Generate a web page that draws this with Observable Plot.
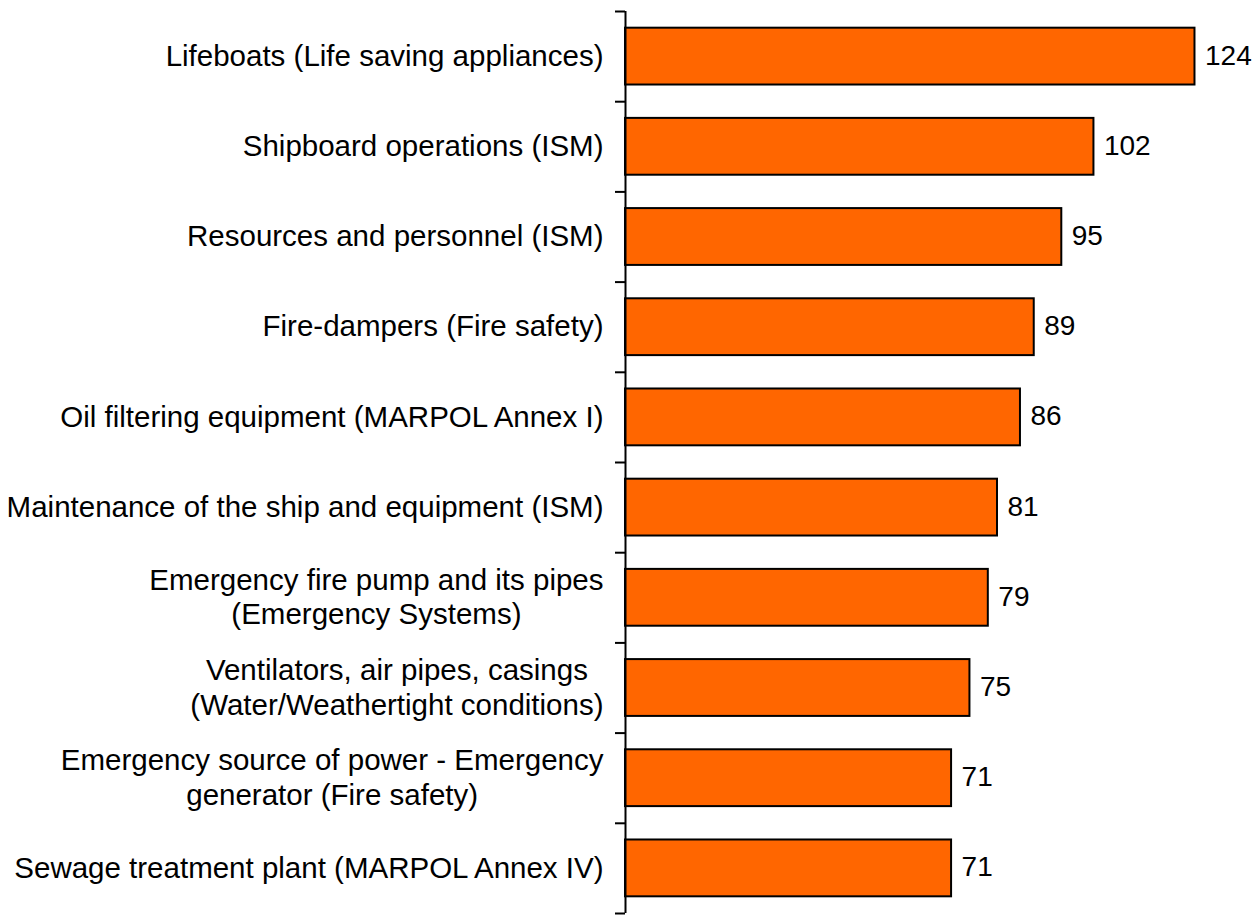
<!DOCTYPE html>
<html>
<head>
<meta charset="utf-8">
<script src="https://cdn.jsdelivr.net/npm/d3@7"></script>
<script src="https://cdn.jsdelivr.net/npm/@observablehq/plot@0.6"></script>
<style>
  html, body { margin: 0; padding: 0; background: #fff; }
  #chart svg { display: block; }
</style>
</head>
<body>
<div id="chart"></div>
<script>
const categories = [
  "Lifeboats (Life saving appliances)",
  "Shipboard operations (ISM)",
  "Resources and personnel (ISM)",
  "Fire-dampers (Fire safety)",
  "Oil filtering equipment (MARPOL Annex I)",
  "Maintenance of the ship and equipment (ISM)",
  "Emergency fire pump and its pipes\n(Emergency Systems)",
  "Ventilators, air pipes, casings\n(Water/Weathertight conditions)",
  "Emergency source of power - Emergency\ngenerator (Fire safety)",
  "Sewage treatment plant (MARPOL Annex IV)"
];
const values = [124, 102, 95, 89, 86, 81, 79, 75, 71, 71];

const data = categories.map((c, i) => ({category: c, value: values[i], rank: i}));
const boundaries = d3.range(categories.length + 1).map(i => i - 0.5);
const halfBar = 0.315;

const font = "'Liberation Sans', Arial, sans-serif";

const chart = Plot.plot({
  width: 1253,
  height: 915,
  marginLeft: 625,
  marginRight: 8,
  marginTop: 11,
  marginBottom: 2,
  style: {fontFamily: font, background: "#fff", color: "#000"},
  x: {domain: [0, 135], axis: null},
  y: {domain: [-0.5, categories.length - 0.5], reverse: true, axis: null},
  marks: [
    Plot.rectX(data, {
      y1: d => d.rank - halfBar,
      y2: d => d.rank + halfBar,
      x1: 0,
      x2: "value",
      fill: "#FF6600",
      stroke: "#000",
      strokeWidth: 2
    }),
    Plot.ruleX([0], {y1: -0.5, y2: categories.length - 0.5, stroke: "#000", strokeWidth: 2}),
    Plot.axisY({
      ticks: boundaries,
      tickSize: 10,
      tickFormat: () => "",
      label: null,
      strokeWidth: 2,
      stroke: "#000"
    }),
    Plot.text(data, {
      x: 0,
      y: "rank",
      text: "category",
      textAnchor: "end",
      dx: -22,
      dy: -2,
      fontSize: 29.5,
      lineHeight: 1.186,
      fill: "#000",
      className: "cat-label"
    }),
    Plot.text(data, {
      x: "value",
      y: "rank",
      text: d => String(d.value),
      textAnchor: "start",
      dx: 10,
      dy: -1,
      fontSize: 28,
      fill: "#000"
    })
  ]
});

document.getElementById("chart").appendChild(chart);

// Center the lines of multi-line category labels as a block (right-aligned block)
chart.querySelectorAll("g.cat-label text").forEach(t => {
  const spans = t.querySelectorAll("tspan");
  if (spans.length > 1) {
    let W = 0;
    spans.forEach(s => { W = Math.max(W, s.getComputedTextLength()); });
    t.setAttribute("text-anchor", "middle");
    spans.forEach(s => s.setAttribute("x", -W / 2));
  }
});
</script>
</body>
</html>
